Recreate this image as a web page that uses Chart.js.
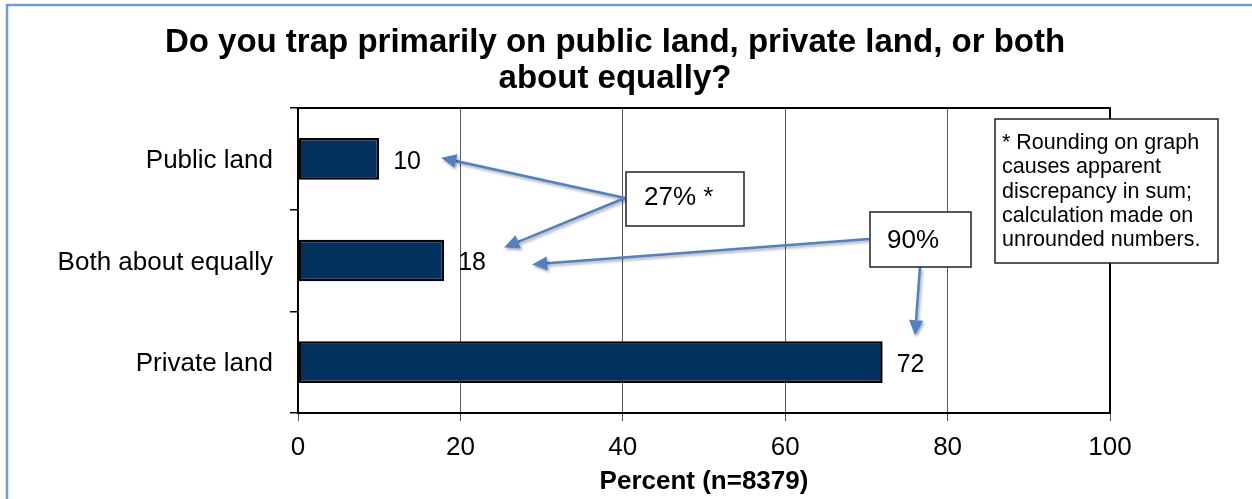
<!DOCTYPE html>
<html>
<head>
<meta charset="utf-8">
<script src="https://cdn.jsdelivr.net/npm/chart.js@4/dist/chart.umd.min.js"></script>
<style>
  html, body { margin: 0; padding: 0; background: #ffffff; }
  #wrap { position: relative; width: 1252px; height: 499px; }
</style>
</head>
<body>
<div id="wrap"><canvas id="c" width="1252" height="499"></canvas></div>
<script>
// Survey answers: where respondents trap
const categories = ['Public land', 'Both about equally', 'Private land'];
const percents = [10, 18, 72];
const xTicks = [0, 20, 40, 60, 80, 100];
const titleLines = ['Do you trap primarily on public land, private land, or both', 'about equally?'];
const axisTitle = 'Percent (n=8379)';
const sumPublicBoth = '27% *';
const sumBothPrivate = '90%';
const footnoteLines = ['* Rounding on graph', 'causes apparent', 'discrepancy in sum;', 'calculation made on', 'unrounded numbers.'];

const FONT = 'Arial, "Liberation Sans", sans-serif';
const ARROW = '#4f81c4';

function arrow(ctx, x1, y1, x2, y2) {
  const ang = Math.atan2(y2 - y1, x2 - x1);
  const len = 15, half = 7;
  const bx = x2 - len * Math.cos(ang), by = y2 - len * Math.sin(ang);
  ctx.save();
  ctx.shadowColor = 'rgba(0,0,0,0.35)';
  ctx.shadowBlur = 3;
  ctx.shadowOffsetX = 1.5;
  ctx.shadowOffsetY = 2;
  ctx.strokeStyle = ARROW;
  ctx.fillStyle = ARROW;
  ctx.lineWidth = 2.5;
  ctx.beginPath();
  ctx.moveTo(x1, y1);
  ctx.lineTo(bx, by);
  ctx.stroke();
  ctx.beginPath();
  ctx.moveTo(x2, y2);
  ctx.lineTo(bx + half * Math.sin(ang), by - half * Math.cos(ang));
  ctx.lineTo(bx - half * Math.sin(ang), by + half * Math.cos(ang));
  ctx.closePath();
  ctx.fill();
  ctx.restore();
}

function box(ctx, l, t, r, b) {
  ctx.save();
  ctx.fillStyle = '#ffffff';
  ctx.fillRect(l, t, r - l, b - t);
  ctx.strokeStyle = '#222222';
  ctx.lineWidth = 1.5;
  ctx.strokeRect(l, t, r - l, b - t);
  ctx.restore();
}

const decor = {
  id: 'decor',
  beforeDraw(chart) {
    const ctx = chart.ctx;
    ctx.save();
    ctx.fillStyle = '#ffffff';
    ctx.fillRect(0, 0, chart.width, chart.height);
    // outer frame
    ctx.strokeStyle = '#6f9bd9';
    ctx.lineWidth = 2.5;
    ctx.beginPath();
    ctx.moveTo(7, chart.height + 5);
    ctx.lineTo(7, 5);
    ctx.lineTo(chart.width + 5, 5);
    ctx.stroke();
    // title
    ctx.fillStyle = '#000000';
    ctx.font = 'bold 33px ' + FONT;
    ctx.textAlign = 'center';
    ctx.textBaseline = 'middle';
    ctx.fillText(titleLines[0], 615, 43);
    ctx.fillText(titleLines[1], 615, 79);
    ctx.restore();
  },
  afterDraw(chart) {
    const ctx = chart.ctx;
    const xs = chart.scales.x, ys = chart.scales.y;
    const a = chart.chartArea;
    ctx.save();
    // plot border
    ctx.strokeStyle = '#000000';
    ctx.lineWidth = 2;
    ctx.strokeRect(a.left, a.top, a.right - a.left, a.bottom - a.top);

    // value labels
    ctx.fillStyle = '#000000';
    ctx.font = '25px ' + FONT;
    ctx.textAlign = 'left';
    ctx.textBaseline = 'middle';
    const meta = chart.getDatasetMeta(0);
    meta.data.forEach((bar, i) => {
      ctx.fillText(String(percents[i]), bar.x + 14, bar.y + 3);
    });

    // sum callouts
    const yPub = ys.getPixelForValue(0), yBoth = ys.getPixelForValue(1), yPriv = ys.getPixelForValue(2);
    const x = v => xs.getPixelForValue(v);
    arrow(ctx, 625, 198, x(percents[0]) + 62, yPub - 1);
    arrow(ctx, 625, 198, x(percents[1]) + 60, yBoth - 13);
    arrow(ctx, 869, 239, x(percents[1]) + 88, yBoth + 4);
    arrow(ctx, 920, 267, 915, yPriv - 27);

    box(ctx, 626, 172, 744, 226);
    box(ctx, 870, 212, 971, 267);
    ctx.fillStyle = '#000000';
    ctx.font = '26px ' + FONT;
    ctx.textAlign = 'left';
    ctx.textBaseline = 'middle';
    ctx.fillText(sumPublicBoth, 644, 198);
    ctx.fillText(sumBothPrivate, 887, 241);

    box(ctx, 995, 119, 1218, 263);
    ctx.fillStyle = '#000000';
    ctx.font = '21.5px ' + FONT;
    footnoteLines.forEach((s, i) => ctx.fillText(s, 1002, 143 + i * 24.3));

    // axis title
    ctx.font = 'bold 26px ' + FONT;
    ctx.textAlign = 'center';
    ctx.fillText(axisTitle, (a.left + a.right) / 2, 482);
    ctx.restore();
  }
};

new Chart(document.getElementById('c'), {
  type: 'bar',
  data: {
    labels: categories,
    datasets: [{
      data: percents,
      backgroundColor: '#02305f',
      borderColor: '#000000',
      borderWidth: 2.5,
      borderSkipped: false,
      categoryPercentage: 1,
      barPercentage: 0.41
    }]
  },
  options: {
    indexAxis: 'y',
    responsive: false,
    animation: false,
    devicePixelRatio: 1,
    layout: { padding: { left: 0, top: 108, right: 142, bottom: 0 } },
    plugins: { legend: { display: false }, tooltip: { enabled: false }, title: { display: false } },
    scales: {
      x: {
        min: 0, max: 100,
        afterBuildTicks(scale) { scale.ticks = xTicks.map(v => ({ value: v })); },
        afterFit(scale) { scale.height = 86; },
        grid: {
          color: ctx => (ctx.tick && (ctx.tick.value === 0 || ctx.tick.value === 100)) ? 'rgba(0,0,0,0)' : '#5a5a5a',
          lineWidth: 1,
          drawTicks: true,
          tickLength: 8,
          tickColor: '#555555'
        },
        border: { display: true, color: '#000000', width: 2 },
        ticks: { color: '#000000', font: { family: FONT, size: 26 }, padding: 11, maxRotation: 0 }
      },
      y: {
        afterFit(scale) { scale.width = 298; },
        grid: { drawOnChartArea: false, tickLength: 8, tickColor: '#000000', lineWidth: 1.5, offset: true },
        border: { display: true, color: '#000000', width: 2 },
        ticks: { color: '#000000', font: { family: FONT, size: 26 }, padding: 17, labelOffset: 2 }
      }
    }
  },
  plugins: [decor]
});
</script>
</body>
</html>
